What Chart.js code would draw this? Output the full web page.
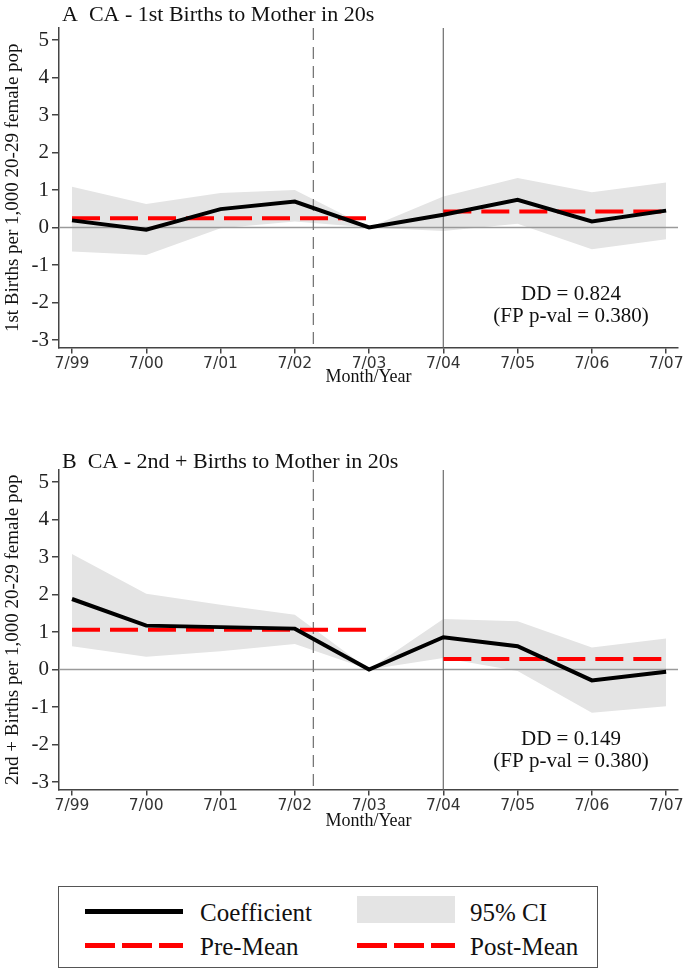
<!DOCTYPE html>
<html>
<head>
<meta charset="utf-8">
<script src="https://cdn.jsdelivr.net/npm/chart.js@4.4.1/dist/chart.umd.min.js"></script>
<style>
  body { margin: 0; background: #fff; }
  #wrap { position: relative; width: 685px; height: 972px; }
  .panel { position: absolute; left: 0; width: 685px; }
  #legend {
    position: absolute; left: 58px; top: 886px; width: 540px; height: 82px;
    border: 1.5px solid #555; box-sizing: border-box;
    font-family: "Liberation Serif", serif; font-size: 25px; color: #111;
  }
  .sw { position: absolute; }
  .txt { position: absolute; white-space: nowrap; line-height: 30px; }
</style>
</head>
<body>
<div id="wrap">
  <div class="panel" style="top:0;height:388px"><canvas id="chartA"></canvas></div>
  <div class="panel" style="top:443px;height:389px"><canvas id="chartB"></canvas></div>
  <div id="legend">
    <div class="sw" style="left:26px;top:22px;width:98px;height:5px;background:#000"></div>
    <div class="txt" style="left:141px;top:11px">Coefficient</div>
    <div class="sw" style="left:298px;top:9px;width:98px;height:27px;background:#e4e4e4"></div>
    <div class="txt" style="left:411px;top:11px">95% CI</div>
    <div class="sw" style="left:26px;top:56px;width:98px;height:5px;background:repeating-linear-gradient(90deg,#f00 0 30px,transparent 30px 37px)"></div>
    <div class="txt" style="left:141px;top:45px">Pre-Mean</div>
    <div class="sw" style="left:298px;top:56px;width:98px;height:5px;background:repeating-linear-gradient(90deg,#f00 0 30px,transparent 30px 37px)"></div>
    <div class="txt" style="left:411px;top:45px">Post-Mean</div>
  </div>
</div>
<script>
// Data
const tickLabels = ['7/99', '7/00', '7/01', '7/02', '7/03', '7/04', '7/05', '7/06', '7/07'];
const periods = [0, 1, 2, 3, 4, 5, 6, 7, 8];
const yTicks = [-3, -2, -1, 0, 1, 2, 3, 4, 5];

// Panel A - 1st births
const coefA = [0.19, -0.06, 0.49, 0.69, 0.0, 0.34, 0.74, 0.16, 0.45];
const ciLowA = [-0.64, -0.73, -0.02, 0.16, 0.0, -0.09, 0.10, -0.58, -0.31];
const ciHighA = [1.09, 0.63, 0.92, 1.00, 0.0, 0.83, 1.32, 0.94, 1.20];
const preMeanA = 0.25;
const postMeanA = 0.43;

// Panel B - 2nd+ births
const coefB = [1.88, 1.17, 1.13, 1.09, 0.0, 0.86, 0.62, -0.29, -0.06];
const ciLowB = [0.62, 0.34, 0.49, 0.68, 0.0, 0.31, -0.04, -1.15, -0.98];
const ciHighB = [3.08, 2.02, 1.73, 1.46, 0.0, 1.35, 1.29, 0.59, 0.83];
const preMeanB = 1.06;
const postMeanB = 0.28;

const policyDate = 3.25;   // dashed line, 10/02
const startDate = 5;       // solid line, 7/04

const serif = '"Liberation Serif", "Times New Roman", serif';
const sans = '"DejaVu Sans", sans-serif';

function pts(xs, ys) {
    return xs.map((x, i) => ({ x: x, y: ys[i] }));
}

// reference lines + panel title + DD note
const decorPlugin = {
    id: 'decor',
    beforeDatasetsDraw(chart, args, opts) {
        const { ctx, chartArea, scales } = chart;
        const x = scales.x, y = scales.y;
        ctx.save();
        // zero line
        ctx.strokeStyle = '#9a9a9a';
        ctx.lineWidth = 1.5;
        ctx.beginPath();
        ctx.moveTo(chartArea.left, y.getPixelForValue(0));
        ctx.lineTo(chartArea.right, y.getPixelForValue(0));
        ctx.stroke();
        // dashed policy line
        ctx.strokeStyle = '#777';
        ctx.lineWidth = 1.3;
        ctx.setLineDash([12, 7]);
        ctx.beginPath();
        ctx.moveTo(x.getPixelForValue(policyDate), chartArea.top);
        ctx.lineTo(x.getPixelForValue(policyDate), chartArea.bottom);
        ctx.stroke();
        ctx.setLineDash([]);
        ctx.beginPath();
        ctx.moveTo(x.getPixelForValue(startDate), chartArea.top);
        ctx.lineTo(x.getPixelForValue(startDate), chartArea.bottom);
        ctx.stroke();
        ctx.restore();
    },
    afterDraw(chart, args, opts) {
        const { ctx, chartArea } = chart;
        ctx.save();
        ctx.fillStyle = '#111';
        ctx.textBaseline = 'middle';
        ctx.font = '22px ' + serif;
        ctx.textAlign = 'left';
        ctx.fillText(opts.title, 62, chartArea.top - opts.titleGap);
        ctx.textAlign = 'center';
        ctx.font = '21px ' + serif;
        ctx.fillText(opts.dd, 571, chartArea.top + opts.ddTop);
        ctx.fillText('(FP p-val = 0.380)', 571, chartArea.top + opts.ddTop + 22);
        ctx.restore();
    }
};

function makeChart(id, coef, lo, hi, pre, post, yTitle, title, titleGap, dd, ddTop, topPad, xHeight) {
    const fixedAxis = {
        border: { display: true, color: '#444', width: 1.5 },
        grid: { drawOnChartArea: false, drawTicks: true, color: '#444', lineWidth: 1.5 }
    };
    return new Chart(document.getElementById(id), {
        type: 'line',
        data: {
            datasets: [
                {
                    label: 'Coefficient',
                    data: pts(periods, coef),
                    borderColor: '#000', borderWidth: 4, pointRadius: 0, fill: false
                },
                {
                    label: 'Pre-Mean',
                    data: pts([periods[0], periods[4]], [pre, pre]),
                    borderColor: '#f00', borderWidth: 4, borderDash: [28, 10], pointRadius: 0, fill: false
                },
                {
                    label: 'Post-Mean',
                    data: pts([periods[5], periods[8]], [post, post]),
                    borderColor: '#f00', borderWidth: 4, borderDash: [28, 10], pointRadius: 0, fill: false
                },
                {
                    label: 'CI high',
                    data: pts(periods, hi),
                    borderWidth: 0, borderColor: 'rgba(0,0,0,0)', pointRadius: 0, fill: false
                },
                {
                    label: '95% CI',
                    data: pts(periods, lo),
                    borderWidth: 0, borderColor: 'rgba(0,0,0,0)', pointRadius: 0,
                    fill: '-1', backgroundColor: '#e4e4e4'
                }
            ]
        },
        options: {
            responsive: true,
            maintainAspectRatio: false,
            animation: false,
            layout: { padding: { top: topPad, right: 7, left: 0, bottom: 0 } },
            elements: { line: { tension: 0 } },
            plugins: {
                legend: { display: false },
                tooltip: { enabled: false },
                filler: { drawTime: 'beforeDatasetsDraw' },
                decor: { title: title, titleGap: titleGap, dd: dd, ddTop: ddTop }
            },
            scales: {
                x: {
                    type: 'linear',
                    min: -0.175, max: 8.16,
                    ...fixedAxis,
                    grid: { ...fixedAxis.grid, tickLength: 6 },
                    afterBuildTicks: s => { s.ticks = periods.map(v => ({ value: v })); },
                    afterFit: s => { s.height = xHeight; },
                    ticks: {
                        autoSkip: false, maxRotation: 0, padding: 1,
                        color: '#333', font: { family: sans, size: 15.5 },
                        callback: v => tickLabels[v]
                    },
                    title: {
                        display: true, text: 'Month/Year', color: '#111',
                        font: { family: serif, size: 18 }, padding: { top: 0, bottom: 0 }
                    }
                },
                y: {
                    min: -3.2, max: 5.32,
                    ...fixedAxis,
                    grid: { ...fixedAxis.grid, tickLength: 7 },
                    afterBuildTicks: s => { s.ticks = yTicks.map(v => ({ value: v })); },
                    afterFit: s => { s.width = 59; },
                    ticks: {
                        padding: 3, color: '#222',
                        font: { family: serif, size: 21 }
                    },
                    title: {
                        display: true, text: yTitle, color: '#111',
                        font: { family: serif, size: 19 }, padding: { top: 2, bottom: 0 }
                    }
                }
            }
        },
        plugins: [decorPlugin]
    });
}

makeChart('chartA', coefA, ciLowA, ciHighA, preMeanA, postMeanA,
    '1st Births per 1,000 20-29 female pop',
    'A  CA - 1st Births to Mother in 20s', 13, 'DD = 0.824', 266, 28, 40.5);
makeChart('chartB', coefB, ciLowB, ciHighB, preMeanB, postMeanB,
    '2nd + Births per 1,000 20-29 female pop',
    'B  CA - 2nd + Births to Mother in 20s', 8, 'DD = 0.149', 269, 27, 42.5);
</script>
</body>
</html>
